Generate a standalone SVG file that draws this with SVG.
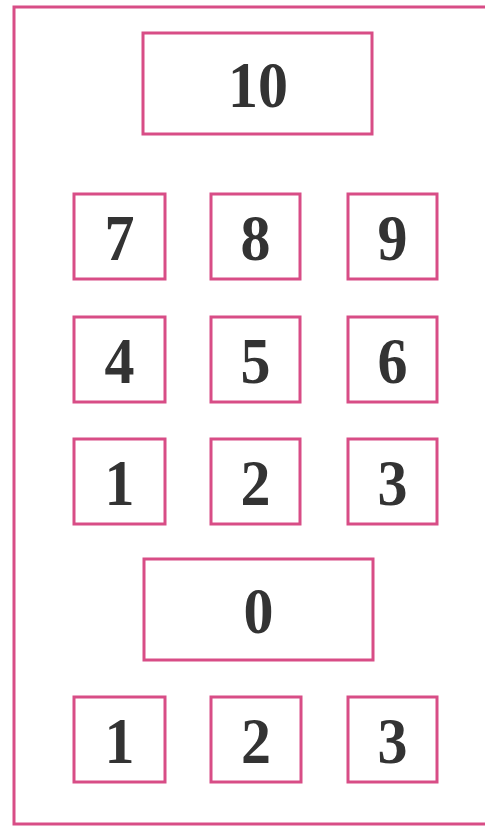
<svg xmlns="http://www.w3.org/2000/svg" width="485" height="829" viewBox="0 0 485 829">
<style>
.frame{fill:none;stroke:#d84d86;stroke-width:3}
.key{fill:#fff;stroke:#d84d86;stroke-width:3}
.lbl{font-family:"Liberation Serif","Times New Roman",serif;font-weight:bold;font-size:60px;fill:#333;text-anchor:middle}
</style>
<rect x="0" y="0" width="485" height="829" fill="#fff"/>
<rect class="frame" x="14" y="7" width="480" height="817"/>
<g id="k10"><rect class="key" x="143" y="33" width="229" height="101"/><text class="lbl" transform="translate(258 107) scale(1 1.1)">10</text></g>
<g id="k7"><rect class="key" x="74" y="194" width="91" height="85"/><text class="lbl" transform="translate(119.5 260) scale(1 1.1)">7</text></g>
<g id="k8"><rect class="key" x="211" y="194" width="89" height="85"/><text class="lbl" transform="translate(255.5 260) scale(1 1.1)">8</text></g>
<g id="k9"><rect class="key" x="348" y="194" width="89" height="85"/><text class="lbl" transform="translate(392.5 260) scale(1 1.1)">9</text></g>
<g id="k4"><rect class="key" x="74" y="317" width="91" height="85"/><text class="lbl" transform="translate(119.5 383) scale(1 1.1)">4</text></g>
<g id="k5"><rect class="key" x="211" y="317" width="89" height="85"/><text class="lbl" transform="translate(255.5 383) scale(1 1.1)">5</text></g>
<g id="k6"><rect class="key" x="348" y="317" width="89" height="85"/><text class="lbl" transform="translate(392.5 383) scale(1 1.1)">6</text></g>
<g id="k1"><rect class="key" x="74" y="439" width="91" height="85"/><text class="lbl" transform="translate(119.5 505) scale(1 1.1)">1</text></g>
<g id="k2"><rect class="key" x="211" y="439" width="89" height="85"/><text class="lbl" transform="translate(255.5 505) scale(1 1.1)">2</text></g>
<g id="k3"><rect class="key" x="348" y="439" width="89" height="85"/><text class="lbl" transform="translate(392.5 505) scale(1 1.1)">3</text></g>
<g id="k0"><rect class="key" x="144" y="559" width="229" height="101"/><text class="lbl" transform="translate(258.5 633) scale(1 1.1)">0</text></g>
<g id="kb1"><rect class="key" x="74" y="697" width="91" height="85"/><text class="lbl" transform="translate(119.5 763) scale(1 1.1)">1</text></g>
<g id="kb2"><rect class="key" x="211" y="697" width="90" height="85"/><text class="lbl" transform="translate(256 763) scale(1 1.1)">2</text></g>
<g id="kb3"><rect class="key" x="348" y="697" width="89" height="85"/><text class="lbl" transform="translate(392.5 763) scale(1 1.1)">3</text></g>
<g id="connectors"></g>
</svg>
